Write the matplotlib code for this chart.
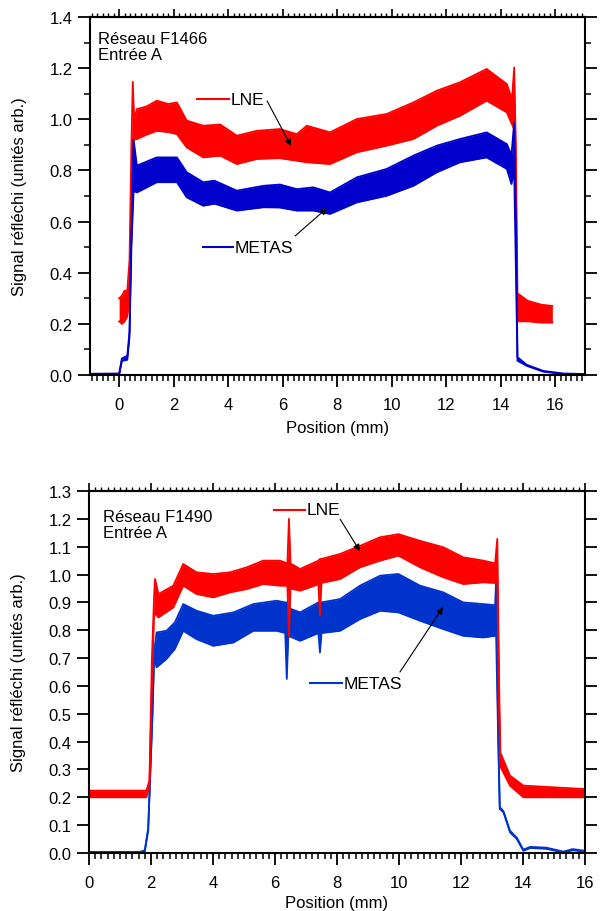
import numpy as np
import matplotlib
matplotlib.use("Agg")
import matplotlib.pyplot as plt
from matplotlib.ticker import MultipleLocator

plt.rcParams['font.family'] = ['Liberation Sans', 'DejaVu Sans']
plt.rcParams['font.size'] = 12

# ---- top panel : Réseau F1466 (x, lower envelope, upper envelope) ----
x1_lne = [0.0, 0.1, 0.2, 0.3, 0.38, 0.45, 0.50, 0.55, 0.65, 1.0, 1.38, 1.8, 2.12, 2.48,
          3.09, 3.71, 4.32, 5.05, 5.9, 6.52, 6.89, 7.74, 8.72, 9.82, 10.8, 11.66, 12.51,
          13.49, 14.23, 14.42, 14.5, 14.56, 14.62, 15.0, 15.5, 15.9]
lo1_lne = [0.21, 0.20, 0.21, 0.23, 0.30, 0.60, 0.92, 0.92, 0.923, 0.94, 0.955, 0.95, 0.942,
           0.89, 0.851, 0.858, 0.825, 0.845, 0.848, 0.838, 0.832, 0.825, 0.871, 0.897, 0.923,
           0.975, 1.014, 1.073, 1.027, 0.98, 0.96, 0.60, 0.21, 0.21, 0.205, 0.205]
hi1_lne = [0.30, 0.31, 0.33, 0.33, 0.45, 0.90, 1.147, 1.00, 1.04, 1.05, 1.073, 1.06, 1.066,
           0.995, 0.975, 0.98, 0.936, 0.955, 0.962, 0.942, 0.975, 0.949, 1.001, 1.021, 1.066,
           1.112, 1.145, 1.197, 1.138, 1.08, 1.203, 0.90, 0.32, 0.29, 0.275, 0.27]

x1_metas = [-1.07, 0.0, 0.1, 0.3, 0.38, 0.45, 0.53, 0.65, 1.38, 2.12, 2.48, 3.09, 3.5, 4.32,
            5.3, 5.9, 6.52, 7.13, 7.74, 8.72, 9.82, 10.8, 11.66, 12.51, 13.49, 14.23, 14.4,
            14.5, 14.58, 14.62, 14.96, 15.57, 16.3, 17.1]
lo1_metas = [0.0, 0.0, 0.055, 0.06, 0.15, 0.50, 0.72, 0.714, 0.754, 0.754, 0.695, 0.662,
             0.67, 0.643, 0.656, 0.655, 0.643, 0.643, 0.63, 0.675, 0.701, 0.74, 0.793, 0.832,
             0.851, 0.806, 0.747, 0.80, 0.30, 0.056, 0.036, 0.013, 0.004, 0.002]
hi1_metas = [0.005, 0.006, 0.065, 0.075, 0.17, 0.55, 0.92, 0.819, 0.851, 0.851, 0.793, 0.754,
             0.76, 0.721, 0.74, 0.745, 0.727, 0.734, 0.714, 0.773, 0.806, 0.858, 0.897, 0.923,
             0.949, 0.903, 0.86, 0.988, 0.50, 0.07, 0.04, 0.016, 0.006, 0.004]

# ---- bottom panel : Réseau F1490 ----
x2_lne = [0.0, 1.85, 1.95, 2.03, 2.1, 2.13, 2.24, 2.72, 3.04, 3.47, 4.01, 4.55, 5.09, 5.62,
          6.16, 6.4, 6.45, 6.5, 6.81, 7.4, 7.45, 7.5, 8.1, 8.74, 9.39, 9.98, 10.68, 11.43,
          12.07, 12.72, 13.1, 13.17, 13.23, 13.27, 13.58, 14.01, 15.95]
lo2_lne = [0.20, 0.20, 0.24, 0.60, 0.86, 0.86, 0.846, 0.882, 0.96, 0.93, 0.918, 0.936, 0.948,
           0.966, 0.96, 0.96, 0.775, 0.95, 0.942, 0.965, 0.852, 0.97, 0.984, 1.026, 1.05,
           1.068, 1.026, 0.99, 0.966, 0.972, 0.97, 0.98, 0.50, 0.31, 0.242, 0.20, 0.20]
hi2_lne = [0.224, 0.224, 0.26, 0.70, 0.92, 0.984, 0.93, 0.96, 1.038, 1.008, 1.002, 1.008,
           1.026, 1.05, 1.05, 1.04, 1.20, 1.04, 1.02, 1.05, 1.056, 1.056, 1.074, 1.103, 1.134,
           1.145, 1.121, 1.098, 1.062, 1.05, 1.04, 1.128, 0.60, 0.36, 0.278, 0.242, 0.23]

x2_metas = [0.0, 1.65, 1.8, 1.91, 1.97, 2.05, 2.1, 2.18, 2.5, 2.77, 3.04, 3.47, 4.01, 4.66,
            5.3, 6.05, 6.33, 6.38, 6.43, 6.81, 7.4, 7.45, 7.5, 8.1, 8.74, 9.39, 9.98, 10.68,
            11.43, 12.07, 12.72, 13.1, 13.13, 13.2, 13.25, 13.37, 13.58, 13.8, 14.01, 14.23,
            14.76, 15.3, 15.6, 16.0]
lo2_metas = [0.0, 0.0, 0.006, 0.08, 0.26, 0.50, 0.70, 0.667, 0.697, 0.733, 0.798, 0.768,
             0.744, 0.756, 0.798, 0.798, 0.79, 0.625, 0.78, 0.762, 0.79, 0.72, 0.79, 0.798,
             0.84, 0.87, 0.864, 0.834, 0.804, 0.78, 0.774, 0.78, 0.80, 0.40, 0.158, 0.146,
             0.074, 0.05, 0.008, 0.018, 0.015, 0.002, 0.010, 0.005]
hi2_metas = [0.004, 0.004, 0.01, 0.09, 0.27, 0.51, 0.72, 0.792, 0.798, 0.828, 0.894, 0.87,
             0.852, 0.864, 0.894, 0.906, 0.90, 0.90, 0.88, 0.864, 0.90, 0.90, 0.90, 0.912,
             0.96, 0.996, 1.002, 0.96, 0.936, 0.90, 0.894, 0.89, 0.972, 0.45, 0.165, 0.15,
             0.08, 0.055, 0.012, 0.022, 0.019, 0.005, 0.014, 0.008]

RED = '#ff0000'


def band(ax, x, lo, hi, color):
    ax.fill_between(x, lo, hi, color=color, lw=0)
    ax.plot(x, lo, color=color, lw=1.3)
    ax.plot(x, hi, color=color, lw=1.3)


def style(ax, xlim, ylim, ymajor, yminor):
    ax.set_xlim(*xlim)
    ax.set_ylim(*ylim)
    for s in ax.spines.values():
        s.set_linewidth(1.5)
    ax.xaxis.set_major_locator(MultipleLocator(2))
    ax.xaxis.set_minor_locator(MultipleLocator(0.2))
    ax.yaxis.set_major_locator(MultipleLocator(ymajor))
    if yminor:
        ax.yaxis.set_minor_locator(MultipleLocator(yminor))
    ax.tick_params(which='major', direction='out', length=8.5, width=1.3, right=True)
    ax.tick_params(which='minor', direction='out', length=4.5, width=1.1, right=True)
    ax.tick_params(axis='x', which='major', pad=7)
    ax.tick_params(axis='y', which='major', pad=4)
    top = ax.secondary_xaxis('top')
    top.xaxis.set_major_locator(MultipleLocator(2))
    top.xaxis.set_minor_locator(MultipleLocator(0.2))
    top.tick_params(which='major', direction='out', length=5.5, width=1.2, labeltop=False)
    top.tick_params(which='minor', direction='out', length=3, width=1.0)
    top.spines['top'].set_linewidth(1.5)
    ax.set_xlabel('Position (mm)')
    ax.set_ylabel('Signal réfléchi (unités arb.)')
    ax.yaxis.set_label_coords(-0.127, 0.5)


fig = plt.figure(figsize=(6.02, 9.12), dpi=100)
ax1 = fig.add_axes([0.1495, 0.5877, 0.8223, 0.3925])
ax2 = fig.add_axes([0.1478, 0.0636, 0.8240, 0.3969])

# top panel
band(ax1, x1_lne, lo1_lne, hi1_lne, RED)
band(ax1, x1_metas, lo1_metas, hi1_metas, '#0000cc')
style(ax1, (-1.07, 17.1), (0, 1.4), 0.2, 0.1)
ax1.xaxis.set_label_coords(0.5, -0.125)
ax1.text(0.016, 0.962, 'Réseau F1466\nEntrée A', transform=ax1.transAxes,
         va='top', ha='left', linespacing=1.1)
ax1.plot([2.86, 4.04], [1.079, 1.079], color=RED, lw=1.5)
ax1.text(4.1, 1.079, 'LNE', va='center', ha='left', fontsize=12.5)
ax1.annotate('', xy=(6.31, 0.896), xytext=(5.43, 1.072),
             arrowprops=dict(arrowstyle='-|>', color='black', lw=0.8,
                             mutation_scale=10, shrinkA=0, shrinkB=0))
ax1.plot([3.08, 4.18], [0.50, 0.50], color='#0000cc', lw=1.5)
ax1.text(4.24, 0.50, 'METAS', va='center', ha='left', fontsize=12.5)
ax1.annotate('', xy=(7.63, 0.653), xytext=(6.46, 0.544),
             arrowprops=dict(arrowstyle='-|>', color='black', lw=0.8,
                             mutation_scale=10, shrinkA=0, shrinkB=0))

# bottom panel
band(ax2, x2_metas, lo2_metas, hi2_metas, '#0033cc')
band(ax2, x2_lne, lo2_lne, hi2_lne, RED)
style(ax2, (0, 16), (0, 1.3), 0.1, None)
ax2.xaxis.set_label_coords(0.5, -0.115)
ax2.text(0.028, 0.95, 'Réseau F1490\nEntrée A', transform=ax2.transAxes,
         va='top', ha='left', linespacing=1.1)
ax2.plot([5.97, 6.97], [1.232, 1.232], color=RED, lw=1.5)
ax2.text(7.03, 1.232, 'LNE', va='center', ha='left', fontsize=12.5)
ax2.annotate('', xy=(8.74, 1.084), xytext=(8.10, 1.199),
             arrowprops=dict(arrowstyle='-|>', color='black', lw=0.8,
                             mutation_scale=10, shrinkA=0, shrinkB=0))
ax2.plot([7.13, 8.16], [0.61, 0.61], color='#0033cc', lw=1.5)
ax2.text(8.2, 0.61, 'METAS', va='center', ha='left', fontsize=12.5)
ax2.annotate('', xy=(11.42, 0.883), xytext=(10.03, 0.65),
             arrowprops=dict(arrowstyle='-|>', color='black', lw=0.8,
                             mutation_scale=10, shrinkA=0, shrinkB=0))

fig.savefig('out.png', dpi=100)
